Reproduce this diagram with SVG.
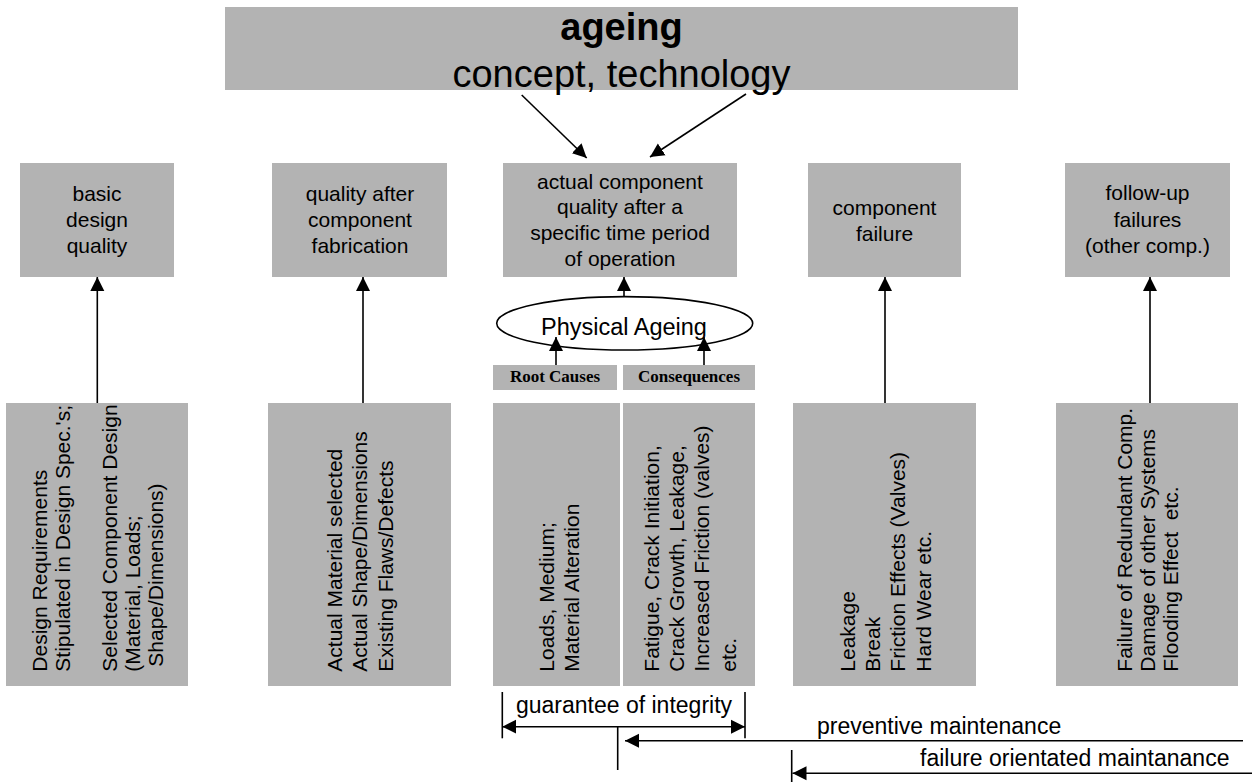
<svg xmlns="http://www.w3.org/2000/svg" width="1254" height="782" viewBox="0 0 1254 782">
<defs>
<style>
.box{fill:#b3b3b3;}
.t{font-family:"Liberation Sans",Arial,sans-serif;font-size:21px;fill:#000;}
.c{text-anchor:middle;}
.h{font-family:"Liberation Serif","Times New Roman",serif;font-size:17px;font-weight:bold;text-anchor:middle;}
.ln{stroke:#000;stroke-width:1.6;fill:none;}
.ar{stroke:#000;stroke-width:1.6;fill:none;marker-end:url(#ah);}
.bt{font-family:"Liberation Sans",Arial,sans-serif;font-size:23px;fill:#000;}
</style>
<marker id="ah" markerUnits="userSpaceOnUse" markerWidth="15" markerHeight="15" refX="14" refY="7" orient="auto-start-reverse" viewBox="0 0 15 14">
<path d="M0,0 L14,7 L0,14 z" fill="#000"/>
</marker>
</defs>

<g id="ageing">
<rect class="box" x="225" y="7" width="793" height="83"/>
<text x="621.5" y="40" class="c" style="font-family:'Liberation Sans',Arial,sans-serif;font-size:38px;font-weight:bold;">ageing</text>
<text x="621.5" y="87" class="c" style="font-family:'Liberation Sans',Arial,sans-serif;font-size:38px;">concept, technology</text>
</g>

<g id="basic-design-quality">
<rect class="box" x="20" y="163" width="154" height="114"/>
<text class="t c"><tspan x="97" y="201">basic</tspan><tspan x="97" y="227">design</tspan><tspan x="97" y="253">quality</tspan></text>
</g>

<g id="quality-after-fabrication">
<rect class="box" x="272" y="163" width="175" height="114"/>
<text class="t c"><tspan x="360" y="201">quality after</tspan><tspan x="360" y="227">component</tspan><tspan x="360" y="253">fabrication</tspan></text>
</g>

<g id="actual-component-quality">
<rect class="box" x="503" y="163" width="234" height="114"/>
<text class="t c"><tspan x="620" y="188.5">actual component</tspan><tspan x="620" y="214">quality after a</tspan><tspan x="620" y="240">specific time period</tspan><tspan x="620" y="265.5">of operation</tspan></text>
</g>

<g id="component-failure">
<rect class="box" x="808" y="163" width="153" height="114"/>
<text class="t c"><tspan x="884.5" y="215">component</tspan><tspan x="884.5" y="241">failure</tspan></text>
</g>

<g id="follow-up-failures">
<rect class="box" x="1065" y="163" width="165" height="114"/>
<text class="t c"><tspan x="1147.5" y="200">follow-up</tspan><tspan x="1147.5" y="226.5">failures</tspan><tspan x="1147.5" y="253">(other comp.)</tspan></text>
</g>

<g id="physical-ageing">
<ellipse cx="624.7" cy="323.3" rx="128" ry="26.7" fill="#fff" stroke="#000" stroke-width="1.6"/>
<text x="624" y="335" class="c" style="font-family:'Liberation Sans',Arial,sans-serif;font-size:23.5px;">Physical Ageing</text>
</g>

<g id="root-causes-header">
<rect class="box" x="493" y="365" width="124" height="25"/>
<text x="555" y="381.7" class="h">Root Causes</text>
</g>

<g id="consequences-header">
<rect class="box" x="623" y="365" width="132" height="25"/>
<text x="689" y="381.7" class="h">Consequences</text>
</g>

<g id="design-requirements">
<rect class="box" x="6" y="403" width="182" height="283"/>
<text class="t" transform="translate(46.7,671.7) rotate(-90)"><tspan x="0" y="0">Design Requirements</tspan><tspan x="0" y="23.3">Stipulated in Design Spec.'s;</tspan><tspan x="0" y="70">Selected Component Design</tspan><tspan x="0" y="93.3">(Material, Loads;</tspan><tspan x="5" y="116.7">Shape/Dimensions)</tspan></text>
</g>

<g id="actual-material">
<rect class="box" x="268" y="403" width="183" height="283"/>
<text class="t" transform="translate(341.7,671.7) rotate(-90)"><tspan x="0" y="0">Actual Material selected</tspan><tspan x="0" y="25.5">Actual Shape/Dimensions</tspan><tspan x="0" y="51.5">Existing Flaws/Defects</tspan></text>
</g>

<g id="loads-medium">
<rect class="box" x="493" y="403" width="127" height="283"/>
<text class="t" transform="translate(554,671.7) rotate(-90)"><tspan x="0" y="0">Loads, Medium;</tspan><tspan x="0" y="24.5">Material Alteration</tspan></text>
</g>

<g id="fatigue">
<rect class="box" x="623" y="403" width="132" height="283"/>
<text class="t" transform="translate(659.3,671.7) rotate(-90)"><tspan x="0" y="0">Fatigue, Crack Initiation,</tspan><tspan x="0" y="25">Crack Growth, Leakage,</tspan><tspan x="0" y="50">Increased Friction (valves)</tspan><tspan x="0" y="76.5">etc.</tspan></text>
</g>

<g id="leakage">
<rect class="box" x="793" y="403" width="183" height="283"/>
<text class="t" transform="translate(855,671.7) rotate(-90)"><tspan x="0" y="0">Leakage</tspan><tspan x="0" y="25">Break</tspan><tspan x="0" y="50">Friction Effects (Valves)</tspan><tspan x="0" y="75.7">Hard Wear etc.</tspan></text>
</g>

<g id="failure-redundant">
<rect class="box" x="1056" y="403" width="182" height="283"/>
<text class="t" transform="translate(1131.7,671.7) rotate(-90)"><tspan x="0" y="0">Failure of Redundant Comp.</tspan><tspan x="0" y="23.3">Damage of other Systems</tspan><tspan x="0" y="46.7">Flooding Effect&#160; etc.</tspan></text>
</g>

<g id="connectors">
<line class="ar" x1="521.7" y1="95" x2="586.7" y2="158"/>
<line class="ar" x1="746" y1="94" x2="650" y2="157"/>
<line class="ar" x1="97.3" y1="403" x2="97.3" y2="277"/>
<line class="ar" x1="363" y1="403" x2="363" y2="277"/>
<line class="ar" x1="885" y1="403" x2="885" y2="277"/>
<line class="ar" x1="1150" y1="403" x2="1150" y2="277"/>
<line class="ar" x1="624" y1="297" x2="624" y2="277"/>
<line class="ar" x1="556" y1="365" x2="556" y2="337"/>
<line class="ar" x1="704" y1="365" x2="704" y2="337"/>
<line class="ln" x1="502.3" y1="692" x2="502.3" y2="738.3"/>
<line class="ln" x1="745" y1="692" x2="745" y2="738.3"/>
<line class="ln" x1="502.3" y1="726.7" x2="745" y2="726.7" style="marker-start:url(#ah);marker-end:url(#ah);"/>
<line class="ln" x1="617.7" y1="726.7" x2="617.7" y2="770"/>
<line class="ar" x1="1243" y1="740.7" x2="625" y2="740.7"/>
<line class="ln" x1="791.7" y1="750" x2="791.7" y2="782"/>
<line class="ar" x1="1252" y1="773.3" x2="792.5" y2="773.3"/>
</g>

<g id="labels">
<text x="624" y="713.3" class="bt c">guarantee of integrity</text>
<text x="817" y="733.5" class="bt">preventive maintenance</text>
<text x="920" y="766" class="bt">failure orientated maintanance</text>
</g>
</svg>
